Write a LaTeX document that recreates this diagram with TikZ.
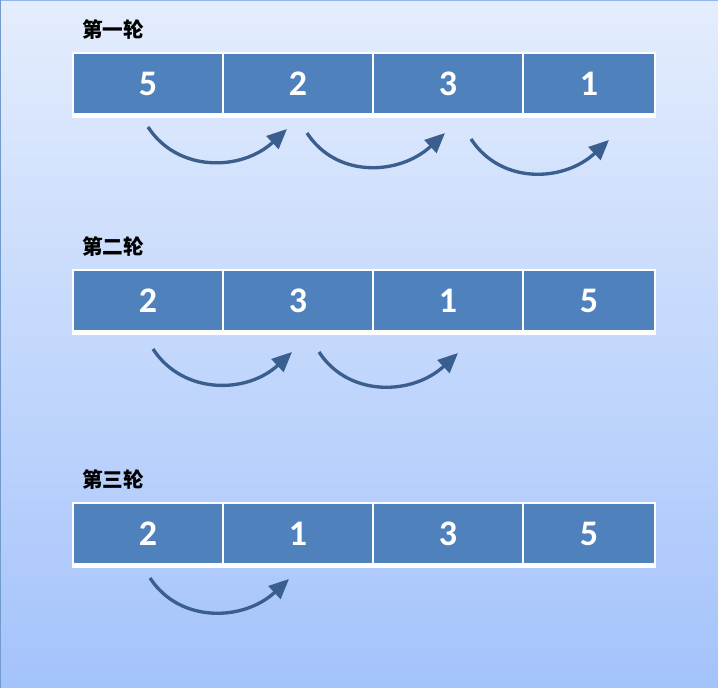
\documentclass[tikz,border=0pt]{standalone}
\usepackage{fontspec}
\setsansfont{Carlito}
\newfontfamily\cjk{Noto Sans CJK SC}
\usetikzlibrary{positioning,arrows.meta}

\definecolor{cellblue}{HTML}{4F81BD}
\definecolor{arrowblue}{HTML}{3A5F8E}
\definecolor{bgtop}{HTML}{E4EDFD}
\definecolor{bgbottom}{HTML}{A4C3FB}

\tikzset{
  cell/.style={draw=white, line width=1.1pt, fill=cellblue, outer sep=0pt,
    minimum height=45.75pt, minimum width=112.5pt, inner sep=0pt,
    text=white, font=\sffamily\bfseries\fontsize{27}{27}\selectfont},
  lastcell/.style={cell, minimum width=99pt},
  roundlabel/.style={anchor=west, inner sep=0pt, font=\cjk\bfseries\fontsize{15.5}{15.5}\selectfont},
  swaparrow/.style={arrowblue, line width=2.5pt, -{Triangle[length=15pt,width=13pt]}}
}

\begin{document}
\begin{tikzpicture}[x=0.75pt, y=-0.75pt]
    \shade[top color=bgtop, bottom color=bgbottom] (0, 0) rectangle (718, 688);
    \useasboundingbox (0, 0) rectangle (718, 688);
    \draw[color=bgbottom!80!cellblue, line width=0.8pt] (0, 0.5) -- (718, 0.5);
    \draw[color=cellblue!80, line width=1.2pt] (0.6, 0) -- (0.6, 688);

    % rows of cells
    \foreach \r/\top/\a/\b/\c/\d in {1/53/5/2/3/1, 2/270/2/3/1/5, 3/503/2/1/3/5} {
      \node[roundlabel] (label\r) at (82, \top - 23) {\ifcase\r\or 第一轮\or 第二轮\or 第三轮\fi};
      \node[cell, anchor=north west] (r\r c1) at (73, \top) {\a};
      \node[cell, right=0pt of r\r c1] (r\r c2) {\b};
      \node[cell, right=0pt of r\r c2] (r\r c3) {\c};
      \node[lastcell, right=0pt of r\r c3] (r\r c4) {\d};
      \fill[white] ([xshift=-0.55pt]r\r c1.south west) rectangle ([xshift=0.55pt, yshift=-3pt]r\r c4.south east);
    }

    % arrow ends
    \coordinate (s11) at (148, 127);
    \coordinate (e11) at (287, 129);
    \coordinate (s12) at (307, 133);
    \coordinate (e12) at (445, 133);
    \coordinate (s13) at (471, 139);
    \coordinate (e13) at (609, 140);
    \coordinate (s21) at (153, 349);
    \coordinate (e21) at (292, 352);
    \coordinate (s22) at (319, 352);
    \coordinate (e22) at (458, 353);
    \coordinate (s31) at (150, 578);
    \coordinate (e31) at (289, 579);

    \foreach \k in {11, 12, 13, 21, 22, 31} {
      \draw[swaparrow] (s\k) .. controls +(30, 46) and +(-45, 42) .. (e\k);
    }
  \end{tikzpicture}
\end{document}
